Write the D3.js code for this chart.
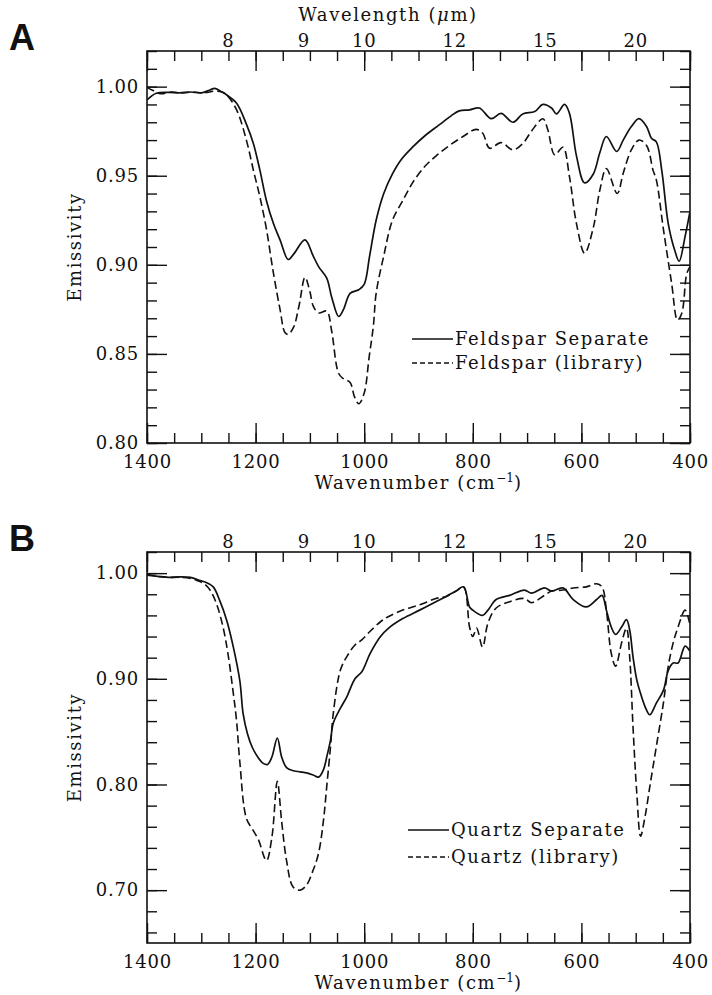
<!DOCTYPE html>
<html>
<head>
<meta charset="UTF-8">
<title>emissivity spectra</title>
<script src="https://cdn.jsdelivr.net/npm/d3@7"></script>
<style>
  body { margin: 0; background: #fff; }
  text { font-family: "DejaVu Serif", serif; fill: #111; }
</style>
</head>
<body>
<div id="chart"></div>
<script>
// ---- panel A: feldspar ----
const feldSepWn = [1400,1383,1360,1340,1320,1300,1285,1275,1262,1253,1235,1217,1204,1192,1180,1167,1155,1140,1130,1109,1094,1084,1069,1060,1047,1038,1026,1010,1000,990,978,964,948,932,911,886,862,840,825,806,788,766,748,726,708,686,671,655,646,631,622,609,594,578,566,554,535,523,508,494,480,471,462,452,440,428,420,409,400];
const feldSep   = [0.9925,0.9963,0.9968,0.9965,0.997,0.9965,0.998,0.999,0.997,0.9953,0.9907,0.979,0.968,0.953,0.936,0.923,0.914,0.903,0.906,0.914,0.905,0.899,0.8925,0.882,0.871,0.875,0.884,0.886,0.889,0.905,0.925,0.940,0.951,0.959,0.966,0.973,0.9785,0.9836,0.9864,0.987,0.988,0.982,0.985,0.980,0.9847,0.986,0.990,0.988,0.9847,0.990,0.985,0.961,0.946,0.951,0.963,0.972,0.9636,0.970,0.9776,0.982,0.9776,0.971,0.969,0.953,0.923,0.908,0.902,0.916,0.930];
const feldLibWn = [1400,1390,1375,1355,1335,1315,1295,1275,1262,1253,1235,1217,1204,1192,1180,1167,1155,1146,1140,1130,1120,1109,1100,1094,1084,1069,1060,1047,1038,1026,1018,1010,1000,991,983,978,964,948,929,911,889,868,843,818,794,782,769,748,726,708,692,671,662,649,634,622,609,594,578,566,554,534,523,508,494,480,468,462,449,434,423,415,406,400];
const feldLib   = [0.9996,0.998,0.996,0.997,0.9965,0.997,0.9965,0.9975,0.997,0.9953,0.987,0.970,0.953,0.938,0.920,0.895,0.875,0.862,0.861,0.865,0.877,0.893,0.885,0.877,0.873,0.874,0.863,0.839,0.836,0.834,0.826,0.822,0.828,0.848,0.866,0.884,0.905,0.925,0.936,0.946,0.955,0.961,0.967,0.972,0.976,0.974,0.9654,0.9686,0.9645,0.968,0.975,0.982,0.976,0.9617,0.966,0.9495,0.923,0.9065,0.921,0.942,0.954,0.940,0.9514,0.9645,0.970,0.967,0.953,0.9477,0.920,0.890,0.869,0.873,0.895,0.899];

// ---- panel B: quartz ----
const qtzSepWn = [1400,1380,1360,1340,1320,1302,1290,1278,1266,1253,1241,1229,1223,1215,1206,1196,1186,1178,1170,1160,1152,1143,1130,1118,1106,1094,1084,1075,1069,1062,1057,1044,1032,1017,1004,989,970,955,929,898,868,849,831,817,806,800,782,772,757,732,705,692,668,655,634,615,591,572,562,554,545,537,526,517,511,505,498,491,483,474,462,449,440,431,422,409,400];
const qtzSep   = [0.998,0.997,0.996,0.9965,0.996,0.993,0.991,0.987,0.974,0.955,0.930,0.898,0.867,0.848,0.835,0.826,0.820,0.819,0.826,0.844,0.826,0.816,0.813,0.812,0.811,0.809,0.807,0.814,0.826,0.842,0.858,0.872,0.883,0.900,0.907,0.924,0.940,0.948,0.957,0.965,0.973,0.978,0.983,0.987,0.968,0.965,0.960,0.965,0.975,0.979,0.984,0.981,0.986,0.983,0.986,0.975,0.968,0.975,0.979,0.965,0.949,0.942,0.949,0.956,0.946,0.921,0.899,0.886,0.874,0.866,0.877,0.889,0.908,0.915,0.915,0.931,0.926];
const qtzLibWn = [1400,1380,1360,1340,1320,1308,1295,1284,1272,1260,1251,1241,1235,1229,1217,1205,1195,1180,1170,1160,1152,1143,1131,1118,1106,1094,1084,1075,1069,1062,1057,1044,1032,1017,1004,989,970,955,929,898,868,849,831,817,806,800,793,782,772,757,732,705,692,668,655,634,615,591,572,562,554,545,537,526,517,511,505,498,491,483,474,462,449,440,431,422,409,400];
const qtzLib   = [0.999,0.997,0.996,0.996,0.995,0.993,0.990,0.984,0.971,0.949,0.924,0.886,0.860,0.821,0.768,0.757,0.748,0.728,0.750,0.803,0.765,0.728,0.703,0.700,0.705,0.719,0.735,0.766,0.798,0.836,0.867,0.908,0.921,0.932,0.937,0.945,0.954,0.959,0.965,0.970,0.976,0.978,0.983,0.987,0.949,0.940,0.948,0.930,0.953,0.967,0.973,0.976,0.972,0.979,0.983,0.984,0.986,0.987,0.990,0.987,0.965,0.924,0.912,0.934,0.948,0.920,0.855,0.792,0.751,0.769,0.798,0.836,0.877,0.912,0.934,0.949,0.965,0.951];

// axis ticks / labels
const wnMajor = [1400, 1200, 1000, 800, 600, 400];
const wnMinor = d3.range(1400, 399, -50);
const wavelengths = [8, 9, 10, 12, 15, 20];

const W = 712, H = 995;
const FS = 18;       // main font size
const LS = 1.6;      // letter spacing for titles / legend
const svg = d3.select("#chart").append("svg")
  .attr("width", W).attr("height", H);

const left = 147, right = 690;

function panel(cfg) {
  const x = d3.scaleLinear().domain([1400, 400]).range([left, right]);
  const y = d3.scaleLinear().domain(cfg.yDomain).range([cfg.bottom, cfg.top]);
  const g = svg.append("g");

  // frame
  g.append("rect")
    .attr("x", left).attr("y", cfg.top)
    .attr("width", right - left).attr("height", cfg.bottom - cfg.top)
    .attr("fill", "none").attr("stroke", "#111").attr("stroke-width", 1.6);

  const styleAxis = sel => {
    sel.select(".domain").remove();
    sel.selectAll("line").attr("stroke", "#111").attr("stroke-width", 1.4);
    sel.selectAll("text").attr("font-size", FS).attr("fill", "#111")
      .attr("letter-spacing", 0.8)
      .style("font-family", "DejaVu Serif, serif");
  };

  // bottom axis
  g.append("g").attr("transform", `translate(0,${cfg.bottom})`)
    .call(d3.axisBottom(x).tickValues(wnMinor).tickSize(-10).tickFormat(""))
    .call(styleAxis);
  g.append("g").attr("transform", `translate(0,${cfg.bottom})`)
    .call(d3.axisBottom(x).tickValues(wnMajor).tickSize(-20).tickPadding(12).tickFormat(d3.format("d")))
    .call(styleAxis);
  // top axis (mirror ticks, no labels)
  g.append("g").attr("transform", `translate(0,${cfg.top})`)
    .call(d3.axisTop(x).tickValues(wnMinor).tickSize(-10).tickFormat(""))
    .call(styleAxis);
  g.append("g").attr("transform", `translate(0,${cfg.top})`)
    .call(d3.axisTop(x).tickValues(wnMajor).tickSize(-20).tickFormat(""))
    .call(styleAxis);
  // wavelength labels on top
  g.selectAll("text.wl").data(wavelengths).join("text")
    .attr("class", "wl")
    .attr("x", d => x(10000 / d))
    .attr("y", cfg.top - 4)
    .attr("text-anchor", "middle")
    .attr("font-size", FS).attr("letter-spacing", 0.8)
    .text(d => d);

  // left & right axes
  g.append("g").attr("transform", `translate(${left},0)`)
    .call(d3.axisLeft(y).tickValues(cfg.yMinor).tickSize(-10).tickFormat(""))
    .call(styleAxis);
  g.append("g").attr("transform", `translate(${left},0)`)
    .call(d3.axisLeft(y).tickValues(cfg.yMajor).tickSize(-20).tickPadding(8).tickFormat(d3.format(".2f")))
    .call(styleAxis);
  g.append("g").attr("transform", `translate(${right},0)`)
    .call(d3.axisRight(y).tickValues(cfg.yMinor).tickSize(-10).tickFormat(""))
    .call(styleAxis);
  g.append("g").attr("transform", `translate(${right},0)`)
    .call(d3.axisRight(y).tickValues(cfg.yMajor).tickSize(-20).tickFormat(""))
    .call(styleAxis);

  // curves
  const line = d3.line().curve(d3.curveCatmullRom.alpha(0.5));
  const clip = "clip" + cfg.id;
  g.append("clipPath").attr("id", clip).append("rect")
    .attr("x", left).attr("y", cfg.top).attr("width", right - left).attr("height", cfg.bottom - cfg.top);
  g.append("path")
    .attr("d", line(cfg.sepWn.map((w, i) => [x(w), y(cfg.sep[i])])))
    .attr("clip-path", `url(#${clip})`)
    .attr("fill", "none").attr("stroke", "#111").attr("stroke-width", 1.7);
  g.append("path")
    .attr("d", line(cfg.libWn.map((w, i) => [x(w), y(cfg.lib[i])])))
    .attr("clip-path", `url(#${clip})`)
    .attr("fill", "none").attr("stroke", "#111").attr("stroke-width", 1.6)
    .attr("stroke-dasharray", "8,4");

  // legend
  const lg = g.append("g");
  cfg.legend.forEach((name, i) => {
    const ly = cfg.legendY + i * cfg.legendGap;
    lg.append("line")
      .attr("x1", cfg.legendX).attr("x2", cfg.legendX + 41)
      .attr("y1", ly).attr("y2", ly)
      .attr("stroke", "#111").attr("stroke-width", 1.3)
      .attr("stroke-dasharray", i === 0 ? null : "5,3");
    lg.append("text")
      .attr("x", cfg.legendX + 43).attr("y", ly + 6)
      .attr("font-size", FS).attr("letter-spacing", LS)
      .text(name);
  });

  // axis titles
  g.append("text")
    .attr("transform", `translate(81,${(cfg.top + cfg.bottom) / 2}) rotate(-90)`)
    .attr("text-anchor", "middle").attr("font-size", FS).attr("letter-spacing", LS)
    .text("Emissivity");
  const xt = g.append("text")
    .attr("x", (left + right) / 2).attr("y", cfg.bottom + 46)
    .attr("text-anchor", "middle").attr("font-size", FS).attr("letter-spacing", LS);
  xt.append("tspan").text("Wavenumber (cm");
  xt.append("tspan").attr("font-size", 12).attr("letter-spacing", 0).attr("dy", -7).text("−1");
  xt.append("tspan").attr("dy", 7).text(")");

  // panel letter
  svg.append("text")
    .attr("x", 9).attr("y", cfg.top - 1)
    .style("font-family", "Liberation Sans, Arial, sans-serif")
    .attr("font-weight", "bold").attr("font-size", 36)
    .text(cfg.id);
}

panel({
  id: "A", top: 51, bottom: 443,
  yDomain: [0.80, 1.02],
  yMajor: [0.80, 0.85, 0.90, 0.95, 1.00],
  yMinor: d3.range(0.80, 1.0201, 0.01),
  sepWn: feldSepWn, sep: feldSep, libWn: feldLibWn, lib: feldLib,
  legend: ["Feldspar Separate", "Feldspar (library)"],
  legendX: 412, legendY: 339, legendGap: 24
});

panel({
  id: "B", top: 552, bottom: 943,
  yDomain: [0.65, 1.02],
  yMajor: [0.70, 0.80, 0.90, 1.00],
  yMinor: d3.range(0.66, 1.0201, 0.02),
  sepWn: qtzSepWn, sep: qtzSep, libWn: qtzLibWn, lib: qtzLib,
  legend: ["Quartz Separate", "Quartz (library)"],
  legendX: 408, legendY: 830, legendGap: 27
});

// wavelength title (panel A only)
const wt = svg.append("text")
  .attr("x", 388).attr("y", 21)
  .attr("text-anchor", "middle").attr("font-size", FS).attr("letter-spacing", LS);
wt.append("tspan").text("Wavelength (");
wt.append("tspan").attr("font-style", "italic").text("μ");
wt.append("tspan").text("m)");
</script>
</body>
</html>
